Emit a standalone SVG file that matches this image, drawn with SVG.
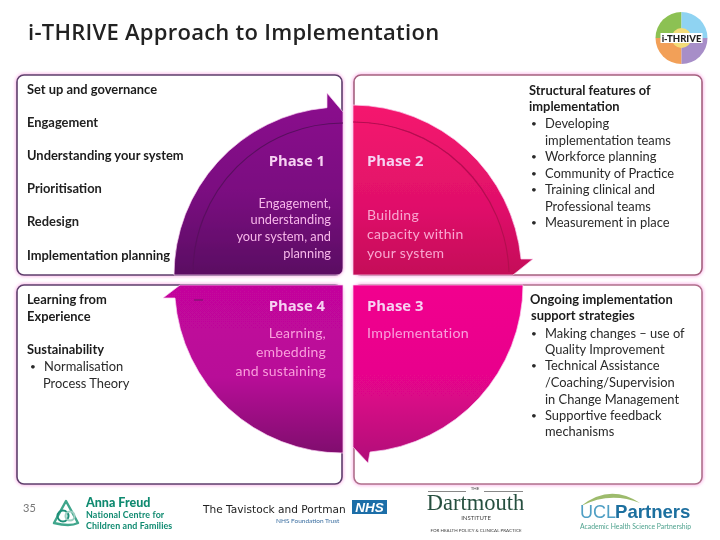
<svg xmlns="http://www.w3.org/2000/svg" width="720" height="540" viewBox="0 0 720 540">
<style>
text{font-family:Lato,"Liberation Sans",sans-serif;font-size:12.9px;fill:#2a2a2a}
.b{font-weight:700;fill:#1c1c1c}
.m{font-weight:700;fill:#222}
.d{font-size:10px}
.h{font-family:"Open Sans","Liberation Sans",sans-serif;font-weight:700;font-size:14.8px;fill:#f6d2f2}
.s{font-size:14px;letter-spacing:.2px;text-anchor:end}
.t{font-size:12.8px;text-anchor:end}
.e{text-anchor:end}
.p{fill:#f7b8ea}
.q{font-size:14px;letter-spacing:.3px;fill:#f9a6d0}
.r{fill:#f9a0dc}
.panel{fill:#fff;stroke-width:1.6}
.halo{fill:none;stroke:#fcc4ee;stroke-width:4}
.inner{fill:none;stroke-width:1.2}
.arc{stroke:#f9d4f2;stroke-width:.7}
</style>
<defs>
<filter id="soft" x="-5%" y="-5%" width="110%" height="110%"><feGaussianBlur stdDeviation="0.35"/></filter>
<filter id="glow" x="-5%" y="-5%" width="110%" height="110%"><feGaussianBlur stdDeviation="1.5"/></filter>
<linearGradient id="g1" x1="0" y1="0" x2="0" y2="1"><stop offset="0" stop-color="#8c0a8e"/><stop offset=".55" stop-color="#7a0a80"/><stop offset="1" stop-color="#5a0c62"/></linearGradient>
<linearGradient id="g2" x1="0" y1="0" x2="0" y2="1"><stop offset="0" stop-color="#f5186e"/><stop offset=".6" stop-color="#e0106a"/><stop offset="1" stop-color="#c40e58"/></linearGradient>
<linearGradient id="g3" x1="0" y1="0" x2="0" y2="1"><stop offset="0" stop-color="#f2008e"/><stop offset=".5" stop-color="#e8068c"/><stop offset="1" stop-color="#b00a78"/></linearGradient>
<linearGradient id="g4" x1="0" y1="0" x2="0" y2="1"><stop offset="0" stop-color="#c4069c"/><stop offset=".55" stop-color="#b80898"/><stop offset="1" stop-color="#80086e"/></linearGradient>
</defs>
<rect width="720" height="540" fill="#fff"/>
<g filter="url(#soft)">
<text id="title" x="28" y="39.500" style="font-family:'Open Sans','Liberation Sans',sans-serif;font-size:22px;font-weight:600;fill:#222;letter-spacing:.26px">i-THRIVE Approach to Implementation</text>

<g id="logo-ithrive">
<path d="M681.500 38V12A26 26 0 0 0 655.500 38Z" fill="#8cc152"/>
<path d="M681.500 38V12A26 26 0 0 1 707.500 38Z" fill="#8fd3f2"/>
<path d="M681.500 38H655.500A26 26 0 0 0 681.500 64Z" fill="#f2a058"/>
<path d="M681.500 38H707.500A26 26 0 0 1 681.500 64Z" fill="#a78ec8"/>
<circle cx="681.500" cy="38" r="10" fill="#f3dc78"/>
<rect x="660.500" y="33" width="42" height="10" fill="#fff"/>
<text x="681.500" y="42" text-anchor="middle" style="font-size:9.500px;font-weight:900;fill:#222">i-THRIVE</text>
</g>

<g id="halos" filter="url(#glow)">
<rect class="halo" x="17" y="75" width="325" height="200" rx="7"/>
<rect class="halo" x="354" y="75" width="348" height="200" rx="7"/>
<rect class="halo" x="17" y="285" width="325" height="199" rx="7"/>
<rect class="halo" x="354" y="285" width="348" height="199" rx="7"/>
</g>

<g id="phase-1-panel">
<rect class="panel" x="17" y="75" width="325" height="200" rx="7" stroke="#5e3f6c"/>
<path class="arc" d="M174 275A168 168 0 0 1 327 107.700L327 93L343 112V268Q343 275 336 275Z" fill="url(#g1)"/>
<path class="inner" d="M193 273A150 150 0 0 1 343 123" stroke="#5a0a60"/>
<text class="b" x="27" y="94">Set up and governance</text>
<text class="m" x="27" y="127">Engagement</text>
<text class="b" x="27" y="160">Understanding your system</text>
<text class="m" x="27" y="193">Prioritisation</text>
<text class="m" x="27" y="226">Redesign</text>
<text class="b" x="27" y="260">Implementation planning</text>
<text class="h e" x="325" y="166">Phase 1</text>
<text class="p t" x="331" y="208">Engagement,</text>
<text class="p t" x="331" y="224">understanding</text>
<text class="p t" x="331" y="241">your system, and</text>
<text class="p t" x="331" y="258">planning</text>
</g>

<g id="phase-2-panel">
<rect class="panel" x="354" y="75" width="348" height="200" rx="7" stroke="#a5617f"/>
<path class="arc" d="M353 105A170 170 0 0 1 521 259L533 259L513 275H353Z" fill="url(#g2)"/>
<path class="inner" d="M353 122A155 155 0 0 1 509 272" stroke="#b40c50"/>
<text class="h" x="367" y="166">Phase 2</text>
<text class="q" x="367" y="220">Building</text>
<text class="q" x="367" y="239">capacity within</text>
<text class="q" x="367" y="258">your system</text>
<text class="b" x="529" y="95">Structural features of</text>
<text class="b" x="529" y="111">implementation</text>
<text class="d" x="531" y="127">•</text><text x="545" y="128">Developing</text>
<text x="545" y="145">implementation teams</text>
<text class="d" x="531" y="160">•</text><text x="545" y="161">Workforce planning</text>
<text class="d" x="531" y="177">•</text><text x="545" y="178">Community of Practice</text>
<text class="d" x="531" y="193">•</text><text x="545" y="194">Training clinical and</text>
<text x="545" y="211">Professional teams</text>
<text class="d" x="531" y="226">•</text><text x="545" y="227">Measurement in place</text>
</g>

<g id="phase-4-panel">
<rect class="panel" x="17" y="285" width="325" height="199" rx="7" stroke="#5e3f6c"/>
<path class="arc" d="M343 285H180L163 298H175A168 168 0 0 0 343 453Z" fill="url(#g4)"/>
<path d="M194 300H203" stroke="#8a0a78" stroke-width="1.500"/>
<text class="b" x="27" y="304">Learning from</text>
<text class="b" x="27" y="321">Experience</text>
<text class="b" x="27" y="354">Sustainability</text>
<text class="d" x="30" y="370">•</text><text x="44" y="371">Normalisation</text>
<text x="43" y="388">Process Theory</text>
<text class="h e" x="325" y="311">Phase 4</text>
<text class="r s" x="326" y="338">Learning,</text>
<text class="r s" x="326" y="357">embedding</text>
<text class="r s" x="326" y="376">and sustaining</text>
</g>

<g id="phase-3-panel">
<rect class="panel" x="354" y="285" width="348" height="199" rx="7" stroke="#b0708c"/>
<path class="arc" d="M353 285H523A168 168 0 0 1 370 452L368 463L353 447Z" fill="url(#g3)"/>
<text class="h" x="367" y="311">Phase 3</text>
<text class="r" x="367" y="338" style="font-size:14.200px;letter-spacing:.3px">Implementation</text>
<text class="b" x="530" y="304">Ongoing implementation</text>
<text class="b" x="531" y="320">support strategies</text>
<text class="d" x="531" y="337">•</text><text x="545" y="338">Making changes – use of</text>
<text x="545" y="354">Quality Improvement</text>
<text class="d" x="531" y="369">•</text><text x="545" y="370">Technical Assistance</text>
<text x="545" y="387">/Coaching/Supervision</text>
<text x="545" y="404">in Change Management</text>
<text class="d" x="531" y="419">•</text><text x="545" y="420">Supportive feedback</text>
<text x="545" y="436">mechanisms</text>
</g>

<text id="page-number" x="23" y="512" style="font-size:11px;fill:#777">35</text>

<g id="logo-anna-freud">
<path d="M66 501L78 523Q70 527 54 523Z" fill="none" stroke="#3fa68c" stroke-width="2.400" stroke-linejoin="round"/>
<circle cx="63" cy="516" r="5.500" fill="none" stroke="#1f8f78" stroke-width="2"/>
<circle cx="70" cy="516" r="4.500" fill="none" stroke="#9dcfc2" stroke-width="2"/>
<text x="86" y="506.500" style="font-size:12.500px;font-weight:900;fill:#108a70">Anna Freud</text>
<text x="86" y="518" style="font-size:8.900px;font-weight:700;letter-spacing:.12px;fill:#108a70">National Centre for</text>
<text x="86" y="528.700" style="font-size:8.900px;font-weight:700;letter-spacing:.12px;fill:#108a70">Children and Families</text>
</g>

<g id="logo-tavistock">
<text x="203" y="513" style="font-family:'DejaVu Sans',sans-serif;font-size:10.600px;fill:#222">The Tavistock and Portman</text>
<text x="276" y="523" style="font-size:6.500px;fill:#3a6ea0">NHS Foundation Trust</text>
<rect x="352" y="500" width="35" height="14" fill="#1a6ea8"/>
<text x="369.500" y="512" text-anchor="middle" style="font-family:'Liberation Sans',sans-serif;font-size:13.500px;font-weight:700;font-style:italic;fill:#fff">NHS</text>
</g>

<g id="logo-dartmouth">
<path d="M428 491.500H466M484 491.500H523" stroke="#555" stroke-width=".7"/>
<text x="475" y="490" text-anchor="middle" style="font-size:4.500px;fill:#444">THE</text>
<text x="475.500" y="510" text-anchor="middle" style="font-family:'Liberation Serif',serif;font-size:22.500px;fill:#27503f">Dartmouth</text>
<text x="476" y="520" text-anchor="middle" style="font-size:6px;fill:#444">INSTITUTE</text>
<text x="476" y="532" text-anchor="middle" style="font-size:4.500px;fill:#444">FOR HEALTH POLICY &amp; CLINICAL PRACTICE</text>
</g>

<g id="logo-uclpartners">
<path d="M581 506Q610 483 640 503Q610 491 581 506Z" fill="#9dbb6c"/>
<text x="580" y="518" style="font-family:'Liberation Sans',sans-serif;font-size:18px;fill:#4f9fc4">UCL</text>
<text x="615" y="518" style="font-family:'Liberation Sans',sans-serif;font-size:18.600px;font-weight:700;fill:#1f6f9f">Partners</text>
<text x="580" y="528.500" style="font-size:6.800px;fill:#4fa28e">Academic Health Science Partnership</text>
</g>
</g>
</svg>
